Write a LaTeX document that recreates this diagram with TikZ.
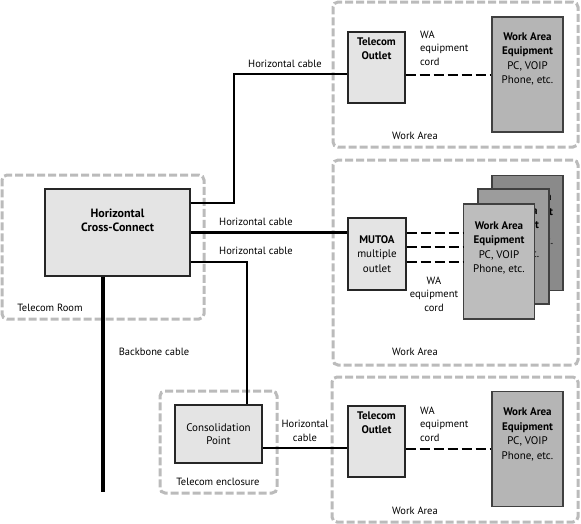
\documentclass[tikz,border=0pt]{standalone}
\usepackage{fontspec}
\setmainfont{PT Sans}
\definecolor{zonegray}{HTML}{BBBBBB}
\definecolor{boxfill}{HTML}{E4E4E4}
\definecolor{eqfill}{HTML}{B5B5B5}
\definecolor{eqback}{HTML}{8A8A8A}
\definecolor{eqmid}{HTML}{9C9C9C}
\definecolor{eqfront}{HTML}{BDBDBD}
\begin{document}
\begin{tikzpicture}[x=1pt,y=-1pt,
  every node/.style={font=\fontsize{10.5}{13.5}\selectfont},
  zone/.style={draw=zonegray, line width=3pt, dash pattern=on 8pt off 3pt, rounded corners=5pt, inner sep=0pt},
  box/.style={draw=black!85, line width=1.2pt, fill=boxfill, inner sep=0pt},
  eqbox/.style={draw=black!75, line width=1.4pt, inner sep=0pt, minimum width=71pt, minimum height=115pt},
  inlbl/.style={anchor=north, align=center, inner sep=0pt, font=\fontsize{11}{14.5}\selectfont},
  cable/.style={line width=2.2pt},
  cord/.style={line width=2.2pt, dash pattern=on 10pt off 4pt},
  txt/.style={inner sep=0pt, align=center}
]
\useasboundingbox (0,0) rectangle (581,523);

% zones
\node[zone, minimum width=245pt, minimum height=145pt] (wa1) at (455.5,74.5) {};
\node[zone, minimum width=245pt, minimum height=205pt] (wa2) at (455.5,262.5) {};
\node[zone, minimum width=246pt, minimum height=145pt] (wa3) at (455,449.5) {};
\node[zone, minimum width=202pt, minimum height=144pt] (room) at (103,247) {};
\node[zone, minimum width=117pt, minimum height=102pt] (encl) at (218.5,442) {};

% zone labels
\node[txt] (l1) at (415,136) {Work Area};
\node[txt] (l2) at (415,352) {Work Area};
\node[txt] (l3) at (415,511) {Work Area};
\node[txt] (lroom) at (50,308) {Telecom Room};
\node[txt] (lencl) at (218,482) {Telecom enclosure};

% main boxes
\node[box, minimum width=145pt, minimum height=87pt,
  label={[inlbl, yshift=-20pt, font=\fontsize{12}{14.5}\selectfont]north:{\bfseries Horizontal\\\bfseries Cross-Connect}}] (hcc) at (117.5,232.5) {};
\node[box, minimum width=57pt, minimum height=71pt,
  label={[inlbl, yshift=-6pt]north:{\bfseries Telecom\\\bfseries Outlet}}] (to1) at (376.5,67.5) {};
\node[box, minimum width=58pt, minimum height=72pt, align=center, font=\fontsize{11}{14.5}\selectfont] (mutoa) at (377,254)
  {\bfseries MUTOA\\multiple\\outlet};
\node[box, minimum width=87pt, minimum height=58pt, align=center, font=\fontsize{11}{13.5}\selectfont] (cp) at (218.5,434)
  {Consolidation\\Point};
\node[box, minimum width=57pt, minimum height=71pt,
  label={[inlbl, yshift=-6pt]north:{\bfseries Telecom\\\bfseries Outlet}}] (to3) at (376.5,441.5) {};

% equipment
\node[eqbox, fill=eqfill,
  label={[inlbl, yshift=-16pt]north:{\bfseries Work Area\\\bfseries Equipment\\PC, VOIP\\Phone, etc.}}] (eq1) at (527.5,74.5) {};
\node[eqbox, fill=eqback,
  label={[inlbl, yshift=-18pt]north:{\bfseries Work Area\\\bfseries Equipment\\PC, VOIP\\Phone, etc.}}] (eq2c) at (527.5,233) {};
\node[eqbox, fill=eqmid,
  label={[inlbl, yshift=-18pt]north:{\bfseries Work Area\\\bfseries Equipment\\PC, VOIP\\Phone, etc.}}] (eq2b) at (513.5,246.5) {};
\node[eqbox, fill=eqfront,
  label={[inlbl, yshift=-18pt]north:{\bfseries Work Area\\\bfseries Equipment\\PC, VOIP\\Phone, etc.}}] (eq2a) at (499,261.5) {};
\node[eqbox, fill=eqfill,
  label={[inlbl, yshift=-17pt]north:{\bfseries Work Area\\\bfseries Equipment\\PC, VOIP\\Phone, etc.}}] (eq3) at (527.5,449) {};

% cables
\draw[cable] ([yshift=29.5pt]hcc.east) -- ++(43,0) |- ([yshift=-6.5pt]to1.west);
\draw[cable] (hcc.east) -- (hcc.east -| mutoa.west);
\draw[cable] ([yshift=-29.5pt]hcc.east) -| ([xshift=28.5pt]cp.north);
\coordinate (bbend) at (103,492);
\draw[line width=4pt] ([xshift=-14.5pt]hcc.south) -- (bbend);
\draw[cable] ([yshift=-14pt]cp.east) -- ([yshift=-14pt]cp.east -| to3.west);

% cords
\draw[cord] ([yshift=-7.5pt]to1.east) -- ([yshift=-7.5pt]to1.east -| eq1.west);
\draw[cord] ([yshift=21pt]mutoa.east) -- ([yshift=21pt]mutoa.east -| eq2a.west);
\draw[cord] ([yshift=7pt]mutoa.east) -- ([yshift=7pt]mutoa.east -| eq2a.west);
\draw[cord] ([yshift=-8pt]mutoa.east) -- ([yshift=-8pt]mutoa.east -| eq2a.west);
\draw[cord] ([yshift=-7.5pt]to3.east) -- ([yshift=-7.5pt]to3.east -| eq3.west);

% cable labels
\node[txt] (h1) at (285,64) {Horizontal cable};
\node[txt] (h2) at (256,222) {Horizontal cable};
\node[txt] (h3) at (256,251) {Horizontal cable};
\node[txt] (h4) at (305,431) {Horizontal\\cable};
\node[txt] (bb) at (154,352) {Backbone cable};
\node[txt, anchor=west, align=left] (c1) at (420,48) {WA\\equipment\\cord};
\node[txt] (c2) at (434,294) {WA\\equipment\\cord};
\node[txt, anchor=west, align=left] (c3) at (420,424) {WA\\equipment\\cord};
\end{tikzpicture}
\end{document}
